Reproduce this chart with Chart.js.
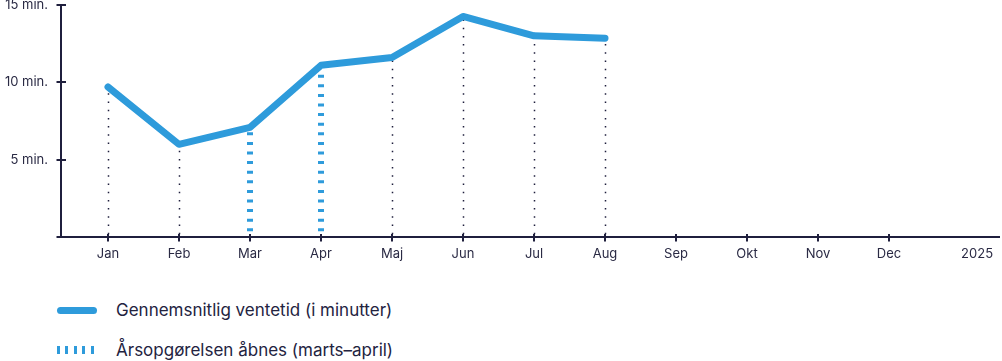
<!DOCTYPE html>
<html><head><meta charset="utf-8">
<script src="https://cdn.jsdelivr.net/npm/chart.js@4/dist/chart.umd.min.js"></script>
<style>
html,body{margin:0;padding:0;background:#fff;overflow:hidden;}
#wrap{position:relative;width:1002px;height:271px;margin-top:-8px;}
#legend{position:absolute;left:0;top:290px;width:1002px;font-family:Inter,"Noto Sans",sans-serif;font-size:17px;color:#23233f;}
.item{position:absolute;left:57px;height:22px;display:flex;align-items:center;white-space:nowrap;}
.sym{width:40px;height:7px;margin-right:19px;}
.solid{background:#2e9bdb;border-radius:4px;}
.dash{background:repeating-linear-gradient(to right,#2e9bdb 0,#2e9bdb 3px,transparent 3px,transparent 8.4px);height:8px;}
</style></head><body>
<div id="wrap"><canvas id="c"></canvas></div>
<div id="legend"></div>
<script>
const months = ['Jan','Feb','Mar','Apr','Maj','Jun','Jul','Aug','Sep','Okt','Nov','Dec'];
const endLabel = '2025';
const waitMinutes = [9.7, 6.0, 7.1, 11.1, 11.6, 14.25, 13.0, 12.85];
const openMonths = ['Mar','Apr'];
const yTicks = [0, 5, 10, 15];
const seriesLabels = ['Gennemsnitlig ventetid (i minutter)', 'Årsopgørelsen åbnes (marts–april)'];

const BLUE = '#2e9bdb', AXIS = '#1f1f3d', TEXT = '#2a2a44';
const END_POS = 12.24;

const linePts = waitMinutes.map((v, i) => ({x: i, y: v}));
const openPts = openMonths.map(m => { const i = months.indexOf(m); return {x: i, y: waitMinutes[i]}; });

const dropPlugin = {
  id: 'drops',
  beforeDatasetsDraw(chart) {
    const ctx = chart.ctx, xs = chart.scales.x, ys = chart.scales.y;
    const base = ys.getPixelForValue(0);
    const openIdx = openPts.map(p => p.x);
    ctx.save();
    linePts.forEach(p => {
      const isOpen = openIdx.includes(p.x);
      const x = Math.round(xs.getPixelForValue(p.x)) + (isOpen ? 0 : 0.5);
      const y = ys.getPixelForValue(p.y);
      ctx.beginPath();
      if (isOpen) {
        ctx.strokeStyle = BLUE; ctx.lineWidth = 6; ctx.setLineDash([3, 6.6]); ctx.lineDashOffset = 3.5;
      } else {
        ctx.strokeStyle = AXIS; ctx.lineWidth = 1.5; ctx.setLineDash([1.5, 6.7]); ctx.lineDashOffset = 5;
      }
      ctx.moveTo(x, base);
      ctx.lineTo(x, y);
      ctx.stroke();
    });
    ctx.restore();
  },
  afterDraw(chart) {
    const ctx = chart.ctx, xs = chart.scales.x, ys = chart.scales.y;
    const left = xs.left, bottom = ys.getPixelForValue(0);
    ctx.save();
    ctx.strokeStyle = AXIS; ctx.lineWidth = 2;
    yTicks.forEach(v => {
      const y = Math.round(ys.getPixelForValue(v));
      ctx.beginPath(); ctx.moveTo(left - 4.5, y); ctx.lineTo(left + 5, y); ctx.stroke();
    });
    months.forEach((m, i) => {
      const x = Math.round(xs.getPixelForValue(i));
      ctx.beginPath(); ctx.moveTo(x, bottom - 3.5); ctx.lineTo(x, bottom + 4); ctx.stroke();
    });
    ctx.restore();
  }
};

const chart = new Chart(document.getElementById('c'), {
  type: 'line',
  data: {
    datasets: [
      {label: seriesLabels[0], data: linePts, borderColor: BLUE, borderWidth: 7, tension: 0,
       borderCapStyle: 'round', borderJoinStyle: 'round', pointRadius: 0, fill: false},
      {label: seriesLabels[1], data: openPts, showLine: false, pointRadius: 0, borderColor: BLUE}
    ]
  },
  options: {
    responsive: true, maintainAspectRatio: false, animation: false,
    layout: {padding: {left: 0, right: 3, top: 0, bottom: 0}},
    plugins: {legend: {display: false}, tooltip: {enabled: false}},
    scales: {
      x: {
        type: 'linear', min: -0.662, max: 12.549,
        afterBuildTicks: s => { s.ticks = months.map((m, i) => ({value: i})).concat([{value: END_POS}]); },
        ticks: {
          autoSkip: false, maxRotation: 0, padding: 1, color: TEXT,
          font: {family: 'Inter, "Noto Sans", sans-serif', size: 13},
          callback: (v) => v === END_POS ? endLabel : months[v]
        },
        grid: {display: true, drawOnChartArea: false, color: 'rgba(0,0,0,0)', tickLength: 8},
        border: {display: true, color: AXIS, width: 2}
      },
      y: {
        min: 0, max: 15,
        afterBuildTicks: s => { s.ticks = yTicks.map(v => ({value: v})); },
        afterFit: s => { s.width = 61; },
        ticks: {
          padding: 5, color: TEXT,
          font: {family: 'Inter, "Noto Sans", sans-serif', size: 13},
          callback: v => v === 0 ? '' : v + ' min.'
        },
        grid: {display: true, drawOnChartArea: false, color: 'rgba(0,0,0,0)', tickLength: 8},
        border: {display: true, color: AXIS, width: 2}
      }
    }
  },
  plugins: [dropPlugin]
});

const legend = document.getElementById('legend');
chart.data.datasets.forEach((ds, i) => {
  const it = document.createElement('div');
  it.className = 'item';
  it.style.top = (i * 40 + 9) + 'px';
  const sym = document.createElement('span');
  sym.className = 'sym ' + (i === 0 ? 'solid' : 'dash');
  const t = document.createElement('span');
  t.textContent = ds.label;
  it.appendChild(sym); it.appendChild(t);
  legend.appendChild(it);
});
</script>
</body></html>
